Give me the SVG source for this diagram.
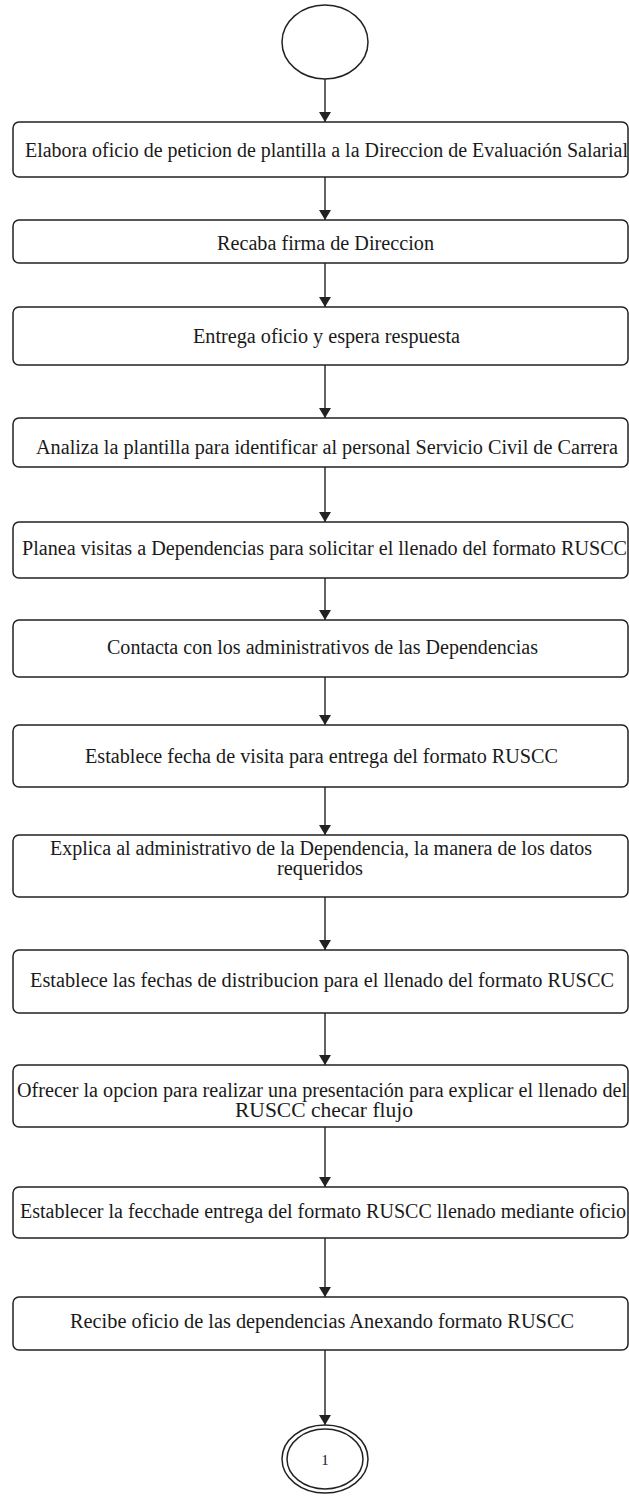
<svg xmlns="http://www.w3.org/2000/svg" width="629" height="1496" viewBox="0 0 629 1496">
<style>
.box{fill:#fff;stroke:#222;stroke-width:1.5}
.term{fill:#fff;stroke:#222;stroke-width:1.5}
.lbl{font-family:"Liberation Serif","Times New Roman",serif;font-size:20px;fill:#1a1a1a}
.edge{stroke:#222;stroke-width:1.4;fill:none}
</style>
<defs>
<marker id="ah" viewBox="0 0 10 12" refX="10" refY="6" markerWidth="10" markerHeight="12" markerUnits="userSpaceOnUse" orient="auto">
<path d="M0,0 L10,6 L0,12 z" fill="#222"/>
</marker>
</defs>
<rect width="629" height="1496" fill="#fff"/>
<g id="connectors">
<line class="edge" x1="325" y1="79" x2="325" y2="122" marker-end="url(#ah)"/>
<line class="edge" x1="325" y1="177" x2="325" y2="220" marker-end="url(#ah)"/>
<line class="edge" x1="325" y1="263" x2="325" y2="307" marker-end="url(#ah)"/>
<line class="edge" x1="325" y1="365" x2="325" y2="418" marker-end="url(#ah)"/>
<line class="edge" x1="325" y1="467" x2="325" y2="522" marker-end="url(#ah)"/>
<line class="edge" x1="325" y1="578" x2="325" y2="620" marker-end="url(#ah)"/>
<line class="edge" x1="325" y1="677" x2="325" y2="725" marker-end="url(#ah)"/>
<line class="edge" x1="325" y1="787" x2="325" y2="835" marker-end="url(#ah)"/>
<line class="edge" x1="325" y1="897" x2="325" y2="950" marker-end="url(#ah)"/>
<line class="edge" x1="325" y1="1013" x2="325" y2="1065" marker-end="url(#ah)"/>
<line class="edge" x1="325" y1="1127" x2="325" y2="1187" marker-end="url(#ah)"/>
<line class="edge" x1="325" y1="1238" x2="325" y2="1297" marker-end="url(#ah)"/>
<line class="edge" x1="325" y1="1350" x2="325" y2="1425" marker-end="url(#ah)"/>
</g>
<g id="start">
<ellipse class="term" cx="325" cy="42" rx="43" ry="37"/>
</g>
<g id="n1">
<rect class="box" x="13" y="122" width="615" height="55" rx="6"/>
<text class="lbl" x="25" y="157" textLength="603" lengthAdjust="spacingAndGlyphs">Elabora oficio de peticion de plantilla a la Direccion de Evaluación Salarial</text>
</g>
<g id="n2">
<rect class="box" x="13" y="220" width="615" height="43" rx="6"/>
<text class="lbl" x="217" y="250" textLength="217" lengthAdjust="spacingAndGlyphs">Recaba firma de Direccion</text>
</g>
<g id="n3">
<rect class="box" x="13" y="307" width="615" height="58" rx="6"/>
<text class="lbl" x="193" y="343" textLength="267" lengthAdjust="spacingAndGlyphs">Entrega oficio y espera respuesta</text>
</g>
<g id="n4">
<rect class="box" x="13" y="418" width="615" height="49" rx="6"/>
<text class="lbl" x="36" y="454" textLength="582" lengthAdjust="spacingAndGlyphs">Analiza la plantilla para identificar al personal Servicio Civil de Carrera</text>
</g>
<g id="n5">
<rect class="box" x="13" y="522" width="615" height="56" rx="6"/>
<text class="lbl" x="22" y="555" textLength="605" lengthAdjust="spacingAndGlyphs">Planea visitas a Dependencias para solicitar el llenado del formato RUSCC</text>
</g>
<g id="n6">
<rect class="box" x="13" y="620" width="615" height="57" rx="6"/>
<text class="lbl" x="107" y="654" textLength="431" lengthAdjust="spacingAndGlyphs">Contacta con los administrativos de las Dependencias</text>
</g>
<g id="n7">
<rect class="box" x="13" y="725" width="615" height="62" rx="6"/>
<text class="lbl" x="85" y="763" textLength="473" lengthAdjust="spacingAndGlyphs">Establece fecha de visita para entrega del formato RUSCC</text>
</g>
<g id="n8">
<rect class="box" x="13" y="835" width="615" height="62" rx="6"/>
<text class="lbl" x="50" y="855" textLength="542" lengthAdjust="spacingAndGlyphs">Explica al administrativo de la Dependencia, la manera de los datos</text>
<text class="lbl" x="277" y="875" textLength="86" lengthAdjust="spacingAndGlyphs">requeridos</text>
</g>
<g id="n9">
<rect class="box" x="13" y="950" width="615" height="63" rx="6"/>
<text class="lbl" x="30" y="987" textLength="584" lengthAdjust="spacingAndGlyphs">Establece las fechas de distribucion para el llenado del formato RUSCC</text>
</g>
<g id="n10">
<rect class="box" x="13" y="1065" width="615" height="62" rx="6"/>
<text class="lbl" x="17" y="1097" textLength="610" lengthAdjust="spacingAndGlyphs">Ofrecer la opcion para realizar una presentación para explicar el llenado del</text>
<text class="lbl" x="235" y="1117" textLength="178" lengthAdjust="spacingAndGlyphs">RUSCC checar flujo</text>
</g>
<g id="n11">
<rect class="box" x="13" y="1187" width="615" height="51" rx="6"/>
<text class="lbl" x="20" y="1218" textLength="606" lengthAdjust="spacingAndGlyphs">Establecer la fecchade entrega del formato RUSCC llenado mediante oficio</text>
</g>
<g id="n12">
<rect class="box" x="13" y="1297" width="615" height="53" rx="6"/>
<text class="lbl" x="70" y="1328" textLength="504" lengthAdjust="spacingAndGlyphs">Recibe oficio de las dependencias Anexando formato RUSCC</text>
</g>
<g id="end">
<ellipse class="term" cx="325" cy="1459" rx="43" ry="34"/>
<ellipse class="term" cx="325" cy="1459" rx="38" ry="30"/>
<text class="lbl" x="325" y="1465" text-anchor="middle" style="font-size:15px">1</text>
</g>
</svg>
